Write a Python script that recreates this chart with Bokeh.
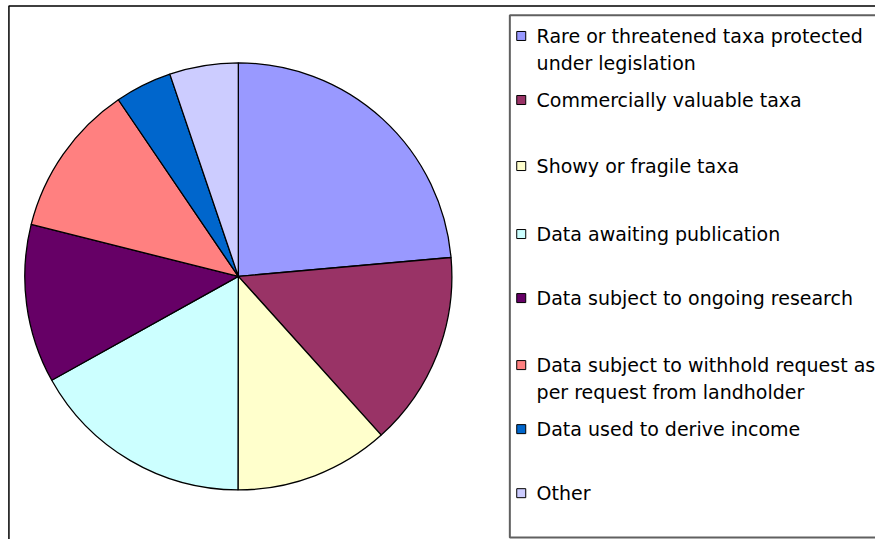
import numpy as np
from bokeh.plotting import figure
from bokeh.models import Range1d, ColumnDataSource
from bokeh.core.properties import value
from bokeh.embed import file_html
from bokeh.resources import INLINE

# ---- data ----
categories = [
    "Rare or threatened taxa protected\nunder legislation",
    "Commercially valuable taxa",
    "Showy or fragile taxa",
    "Data awaiting publication",
    "Data subject to ongoing research",
    "Data subject to withhold request as\nper request from landholder",
    "Data used to derive income",
    "Other",
]
shares = [23.6, 14.75, 11.7, 16.9, 12.0, 11.6, 4.3, 5.2]
colors = ["#9999FF", "#993366", "#FFFFCC", "#CCFFFF", "#660066", "#FF8080", "#0066CC", "#CCCCFF"]

# ---- layout (reference picture pixel coordinates, 883x547) ----
W, H = 875, 539
def sy(y):  # picture y (down) -> data y (up)
    return 547 - y

cx, cy, r = 240, sy(280), 215.5
legend_rows = [36, 101, 168, 237, 302, 370, 435, 500]
line_gap = 27

frac = np.array(shares) / np.sum(shares)
cum = np.concatenate([[0], np.cumsum(frac)])
start = np.pi / 2 - cum[:-1] * 2 * np.pi
end = np.pi / 2 - cum[1:] * 2 * np.pi

p = figure(width=W, height=H, output_backend="svg", toolbar_location=None,
           x_range=Range1d(0, 883), y_range=Range1d(0, 547),
           min_border=0, outline_line_color=None)
p.axis.visible = False
p.grid.visible = False
p.background_fill_color = "white"
p.border_fill_color = "white"

src = ColumnDataSource(dict(start=start, end=end, color=colors, cat=categories))
p.wedge(x=cx, y=cy, radius=r, start_angle="start", end_angle="end", direction="clock",
        fill_color="color", line_color="black", line_width=1.3, source=src)

# outer chart border (left and top)
p.line([8.5, 8.5, 900], [-10, sy(5.5), sy(5.5)], line_color="black", line_width=1.5)
# legend box
p.line([900, 514, 514, 900], [sy(15), sy(15), sy(545), sy(545)], line_color="#606060", line_width=2)

# legend markers
p.scatter(x=[525.5] * len(categories), y=[sy(v) for v in legend_rows], marker="square",
          size=9, fill_color=colors, line_color="black", line_width=1)

tx, ty, tt = [], [], []
for lab, row in zip(categories, legend_rows):
    for i, part in enumerate(lab.split("\n")):
        tx.append(541)
        ty.append(sy(row + i * line_gap))
        tt.append(part)
p.text(x=tx, y=ty, text=tt, text_font=value("DejaVu Sans"), text_font_size="19px",
       text_baseline="middle", text_align="left", text_color="black")

open("out.html", "w").write(file_html(p, INLINE))
